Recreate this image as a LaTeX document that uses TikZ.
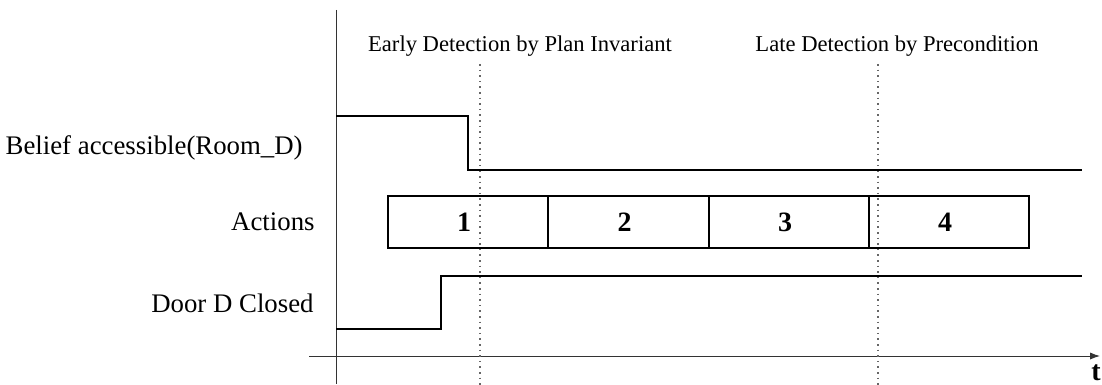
\documentclass[tikz,border=0pt]{standalone}
\usepackage{fontspec}
\setmainfont{Liberation Serif}
\usetikzlibrary{arrows.meta}
\begin{document}
\begin{tikzpicture}[x=0.5pt,y=-0.5pt,
  lbl/.style={font=\fontsize{13.4}{16}\selectfont, inner sep=0pt},
  note/.style={font=\fontsize{11.3}{14}\selectfont, inner sep=0pt},
  act/.style={draw, line width=0.9pt, minimum width=80.25pt, minimum height=26pt,
              inner sep=0pt, font=\fontsize{14}{16}\selectfont\bfseries},
  signal/.style={line width=1.3pt},
  axis/.style={line width=0.5pt, draw=black!80},
  marker/.style={draw=black!60, line width=0.8pt, dotted}]
\useasboundingbox (0,0) rectangle (1102,385);

% time axes
\coordinate (yTop) at (336,10);
\coordinate (yBot) at (336,384);
\coordinate (xL) at (309,356);
\coordinate (xR) at (1100,356);
\draw[axis] (yTop) -- (yBot);
\draw[axis, -{Latex[length=5pt,width=3.6pt]}] (xL) -- (xR);
\node[lbl, font=\fontsize{14}{16}\selectfont\bfseries] (t) at (1096,373) {t};

% detection markers
\coordinate (eTop) at (480,64);
\coordinate (eBot) at (480,385);
\coordinate (lTop) at (878,64);
\coordinate (lBot) at (878,385);
\draw[marker] (eTop) -- (eBot);
\draw[marker] (lTop) -- (lBot);
\node[note] (early) at (520,46) {Early Detection by Plan Invariant};
\node[note] (late) at (897,46) {Late Detection by Precondition};

% row labels
\node[lbl, anchor=east] (belief) at (303,148) {Belief accessible(Room\_D)};
\node[lbl, anchor=east] (actions) at (315,222) {Actions};
\node[lbl, anchor=east] (door) at (314,303) {Door D Closed};

% belief signal
\coordinate (b0) at (336,116);
\coordinate (b1) at (468,116);
\coordinate (b2) at (468,170);
\coordinate (b3) at (1082,170);
\draw[signal] (b0) -- (b1) -- (b2) -- (b3);

% door signal
\coordinate (d0) at (336,329);
\coordinate (d1) at (441,329);
\coordinate (d2) at (441,276);
\coordinate (d3) at (1082,276);
\draw[signal] (d0) -- (d1) -- (d2) -- (d3);

% action sequence
\node[act] (a1) at (468,222) {1\kern4pt};
\node[act] (a2) at (628.5,222) {2\kern4pt};
\node[act] (a3) at (789,222) {3\kern4pt};
\node[act] (a4) at (949,222) {4\kern4pt};
\end{tikzpicture}
\end{document}
